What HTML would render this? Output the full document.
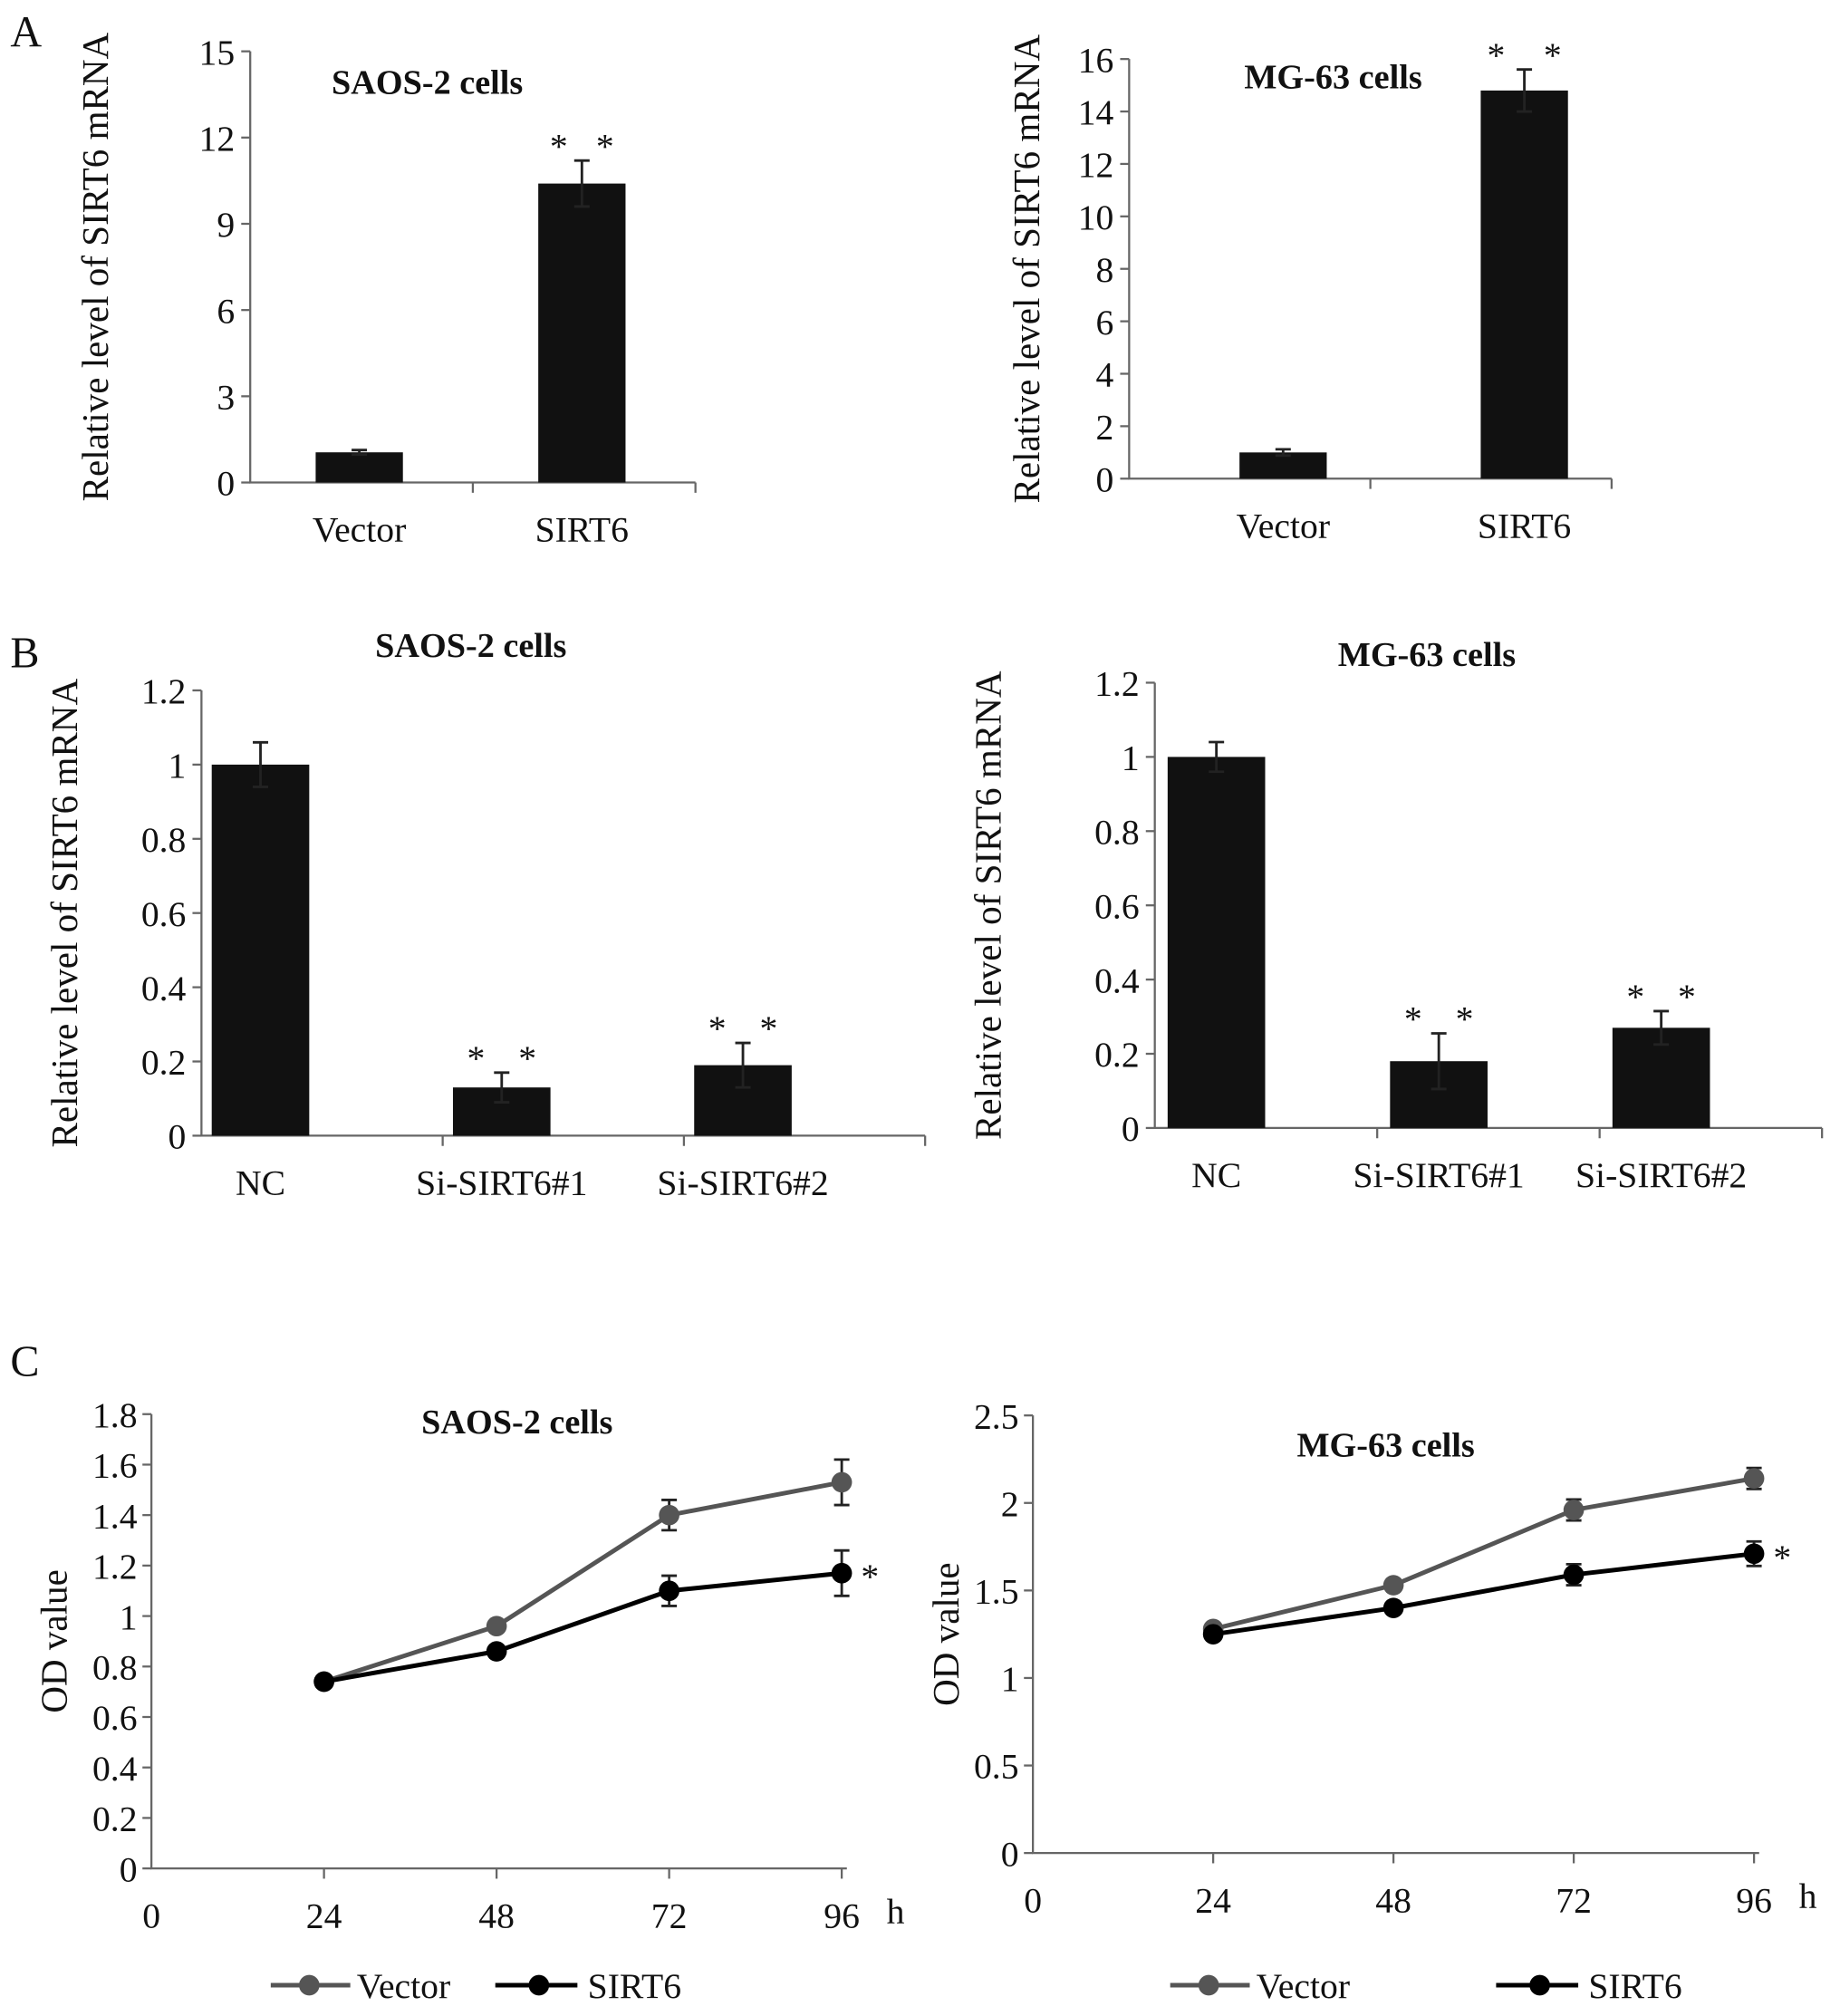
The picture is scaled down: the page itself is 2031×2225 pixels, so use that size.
<!DOCTYPE html>
<html><head><meta charset="utf-8"><style>
html,body{margin:0;padding:0;background:#fff}
svg{display:block;font-family:"Liberation Serif","DejaVu Serif",serif}
text{font-family:"Liberation Serif","DejaVu Serif",serif;fill:#111}
</style></head><body>
<svg id="fig" width="2031" height="2225" viewBox="0 0 1434 1571" xmlns="http://www.w3.org/2000/svg" font-family="Liberation Serif, DejaVu Serif, serif">
<text x="8" y="36" font-size="34">A</text>
<text x="8" y="520" font-size="34">B</text>
<text x="8" y="1072" font-size="34">C</text>
</svg>
<script>
// Panel A left
const aLeftCats = ["Vector", "SIRT6"];
const aLeftVals = [1.05, 10.4];
const aLeftErr = [0.08, 0.8];
const aLeftTicks = [0, 3, 6, 9, 12, 15];
// Panel A right
const aRightCats = ["Vector", "SIRT6"];
const aRightVals = [1.0, 14.8];
const aRightErr = [0.12, 0.8];
const aRightTicks = [0, 2, 4, 6, 8, 10, 12, 14, 16];
// Panel B left
const bLeftCats = ["NC", "Si-SIRT6#1", "Si-SIRT6#2"];
const bLeftVals = [1.0, 0.13, 0.19];
const bLeftErr = [0.06, 0.04, 0.06];
const bLeftTicks = ["0", "0.2", "0.4", "0.6", "0.8", "1", "1.2"];
// Panel B right
const bRightCats = ["NC", "Si-SIRT6#1", "Si-SIRT6#2"];
const bRightVals = [1.0, 0.18, 0.27];
const bRightErr = [0.04, 0.075, 0.045];
const bRightTicks = ["0", "0.2", "0.4", "0.6", "0.8", "1", "1.2"];
// Panel C
const cHours = [24, 48, 72, 96];
const cXTicks = [0, 24, 48, 72, 96];
const cLeftVector = [0.74, 0.96, 1.40, 1.53];
const cLeftVectorErr = [0.02, 0.02, 0.06, 0.09];
const cLeftSirt = [0.74, 0.86, 1.10, 1.17];
const cLeftSirtErr = [0.02, 0.02, 0.06, 0.09];
const cLeftTicks = ["0", "0.2", "0.4", "0.6", "0.8", "1", "1.2", "1.4", "1.6", "1.8"];
const cRightVector = [1.28, 1.53, 1.96, 2.14];
const cRightVectorErr = [0.02, 0.03, 0.06, 0.06];
const cRightSirt = [1.25, 1.40, 1.59, 1.71];
const cRightSirtErr = [0.02, 0.02, 0.06, 0.07];
const cRightTicks = ["0", "0.5", "1", "1.5", "2", "2.5"];

const NS = "http://www.w3.org/2000/svg";
const svg = document.getElementById("fig");
function mk(tag, attrs, parent) {
  const e = document.createElementNS(NS, tag);
  for (const k in attrs) e.setAttribute(k, attrs[k]);
  (parent || svg).appendChild(e);
  return e;
}
function txt(x, y, s, size, extra, parent) {
  const t = mk("text", Object.assign({x: x, y: y, "font-size": size, "font-family": "Liberation Serif, DejaVu Serif, serif"}, extra || {}), parent);
  t.textContent = s;
  return t;
}

function barChart(o) {
  const g = mk("g", {});
  
  
  const max = +o.ticks[o.ticks.length - 1];
  const yS = v => o.y0 - (v / max) * (o.y0 - o.yTop);
  const n = o.cats.length;
  const gw = (o.xEnd - o.x0) / n;
  const axis = mk("path", {d: `M${o.x0} ${o.yTop}V${o.y0}H${o.xEnd}`, stroke: "#666", "stroke-width": 1.6, fill: "none"}, g);
  
  
  o.ticks.forEach(t => {
    const y = yS(+t);
    mk("line", {x1: o.x0 - 7, x2: o.x0, y1: y, y2: y, stroke: "#666", "stroke-width": 1.6}, g);
    const l = txt(o.x0 - 12, y + 10, String(t), 28, {"text-anchor": "end"}, g);
    
    
  });
  for (let i = 1; i <= n; i++) {
    const x = o.x0 + gw * i;
    mk("line", {x1: x, x2: x, y1: o.y0, y2: o.y0 + 8, stroke: "#666", "stroke-width": 1.6}, g);
  }
  o.cats.forEach((c, i) => {
    const cx = o.x0 + gw * i + o.off;
    const yv = yS(o.vals[i]);
    const r = mk("rect", {x: cx - o.bw / 2, y: yv, width: o.bw, height: o.y0 - yv, fill: "#111"}, g);
    
    
    const e1 = yS(o.vals[i] + o.err[i]), e2 = yS(o.vals[i] - o.err[i]);
    mk("path", {d: `M${cx} ${e1}V${e2}M${cx - 6} ${e1}H${cx + 6}M${cx - 6} ${e2}H${cx + 6}`, stroke: "#222", "stroke-width": 2, fill: "none"}, g);
    const l = txt(cx, o.y0 + 46, c, 28, {"text-anchor": "middle"}, g);
    
    
    if (i > 0) {
      [-1, 1].forEach(sg => {
        const s = txt(cx + sg * o.sg, e1 - 2, "*", 28, {"text-anchor": "middle"}, g);
        
        
      });
    }
  });
  const tt = txt(o.titleX, o.titleY, o.title, 27, {"font-weight": "bold", "text-anchor": "middle"}, g);
  
  
  const ym = (o.yTop + o.y0) / 2;
  const yt = txt(o.ylx, ym, "Relative level of SIRT6 mRNA", 29, {"text-anchor": "middle", transform: `rotate(-90 ${o.ylx} ${ym})`}, g);
  
  
}

barChart({name: "chart-a-saos2", cats: aLeftCats, vals: aLeftVals, err: aLeftErr, ticks: aLeftTicks, x0: 195, xEnd: 542, yTop: 40, y0: 376, bw: 68, off: 85, sg: 18, title: "SAOS-2 cells", titleX: 333, titleY: 73, ylx: 84});
barChart({name: "chart-a-mg63", cats: aRightCats, vals: aRightVals, err: aRightErr, ticks: aRightTicks, x0: 880, xEnd: 1256, yTop: 46, y0: 373, bw: 68, off: 120, sg: 22, title: "MG-63 cells", titleX: 1039, titleY: 69, ylx: 810});
barChart({name: "chart-b-saos2", cats: bLeftCats, vals: bLeftVals, err: bLeftErr, ticks: bLeftTicks, x0: 157, xEnd: 721, yTop: 538, y0: 885, bw: 76, off: 46, sg: 20, title: "SAOS-2 cells", titleX: 367, titleY: 512, ylx: 60});
barChart({name: "chart-b-mg63", cats: bRightCats, vals: bRightVals, err: bRightErr, ticks: bRightTicks, x0: 900, xEnd: 1420, yTop: 532, y0: 879, bw: 76, off: 48, sg: 20, title: "MG-63 cells", titleX: 1112, titleY: 519, ylx: 780});

function lineChart(o) {
  const g = mk("g", {});
  
  
  const max = +o.ticks[o.ticks.length - 1];
  const yS = v => o.y0 - (v / max) * (o.y0 - o.yTop);
  const xS = h => o.x0 + (h / 96) * (o.x96 - o.x0);
  const axis = mk("path", {d: `M${o.x0} ${o.yTop}V${o.y0}H${o.x96 + 4}`, stroke: "#666", "stroke-width": 1.6, fill: "none"}, g);
  
  
  o.ticks.forEach(t => {
    const y = yS(+t);
    mk("line", {x1: o.x0 - 7, x2: o.x0, y1: y, y2: y, stroke: "#666", "stroke-width": 1.6}, g);
    const l = txt(o.x0 - 11, y + 10, String(t), 28, {"text-anchor": "end"}, g);
    
    
  });
  cXTicks.forEach(h => {
    const x = xS(h);
    if (h > 0) mk("line", {x1: x, x2: x, y1: o.y0, y2: o.y0 + 8, stroke: "#666", "stroke-width": 1.6}, g);
    const l = txt(x, o.y0 + 46, String(h), 28, {"text-anchor": "middle"}, g);
    
    
  });
  txt(o.x96 + 42, o.y0 + 43, "h", 28, {"text-anchor": "middle"}, g);
  const series = [[o.vec, o.vecErr, "#555", "vector"], [o.sirt, o.sirtErr, "#000", "sirt6"]];
  series.forEach(s => {
    const pts = cHours.map((h, i) => [xS(h), yS(s[0][i])]);
    const p = mk("polyline", {points: pts.map(p => p.join(",")).join(" "), fill: "none", stroke: s[2], "stroke-width": 3.5}, g);
    
    
    pts.forEach((pt, i) => {
      const e1 = yS(s[0][i] + s[1][i]), e2 = yS(s[0][i] - s[1][i]);
      mk("path", {d: `M${pt[0]} ${e1}V${e2}M${pt[0] - 6} ${e1}H${pt[0] + 6}M${pt[0] - 6} ${e2}H${pt[0] + 6}`, stroke: "#222", "stroke-width": 2, fill: "none"}, g);
      const c = mk("circle", {cx: pt[0], cy: pt[1], r: 8, fill: s[2]}, g);
      
      
    });
  });
  const last = yS(o.sirt[3]);
  txt(xS(96) + 22, last + 12, "*", 28, {"text-anchor": "middle"}, g);
  const tt = txt(o.titleX, o.titleY, o.title, 27, {"font-weight": "bold", "text-anchor": "middle"}, g);
  
  
  const ym = (o.yTop + o.y0) / 2;
  const yt = txt(o.ylx, ym, "OD value", 29, {"text-anchor": "middle", transform: `rotate(-90 ${o.ylx} ${ym})`}, g);
  
  
  const lg = mk("g", {}, g);
  
  
  const L = o.leg;
  mk("line", {x1: L[0], x2: L[0] + 62, y1: 1547, y2: 1547, stroke: "#555", "stroke-width": 3.5}, lg);
  mk("circle", {cx: L[0] + 30, cy: 1547, r: 8, fill: "#555"}, lg);
  const t1 = txt(L[0] + 67, 1557, "Vector", 28, {}, lg);
  
  
  mk("line", {x1: L[1], x2: L[1] + 64, y1: 1547, y2: 1547, stroke: "#000", "stroke-width": 3.5}, lg);
  mk("circle", {cx: L[1] + 34, cy: 1547, r: 8, fill: "#000"}, lg);
  const t2 = txt(L[1] + 72, 1557, "SIRT6", 28, {}, lg);
  
  
}

lineChart({name: "chart-c-saos2", vec: cLeftVector, vecErr: cLeftVectorErr, sirt: cLeftSirt, sirtErr: cLeftSirtErr, ticks: cLeftTicks, x0: 118, x96: 656, yTop: 1102, y0: 1456, title: "SAOS-2 cells", titleX: 403, titleY: 1117, ylx: 52, leg: [211, 386]});
lineChart({name: "chart-c-mg63", vec: cRightVector, vecErr: cRightVectorErr, sirt: cRightSirt, sirtErr: cRightSirtErr, ticks: cRightTicks, x0: 805, x96: 1367, yTop: 1103, y0: 1444, title: "MG-63 cells", titleX: 1080, titleY: 1135, ylx: 747, leg: [912, 1166]});
</script>
</body></html>
